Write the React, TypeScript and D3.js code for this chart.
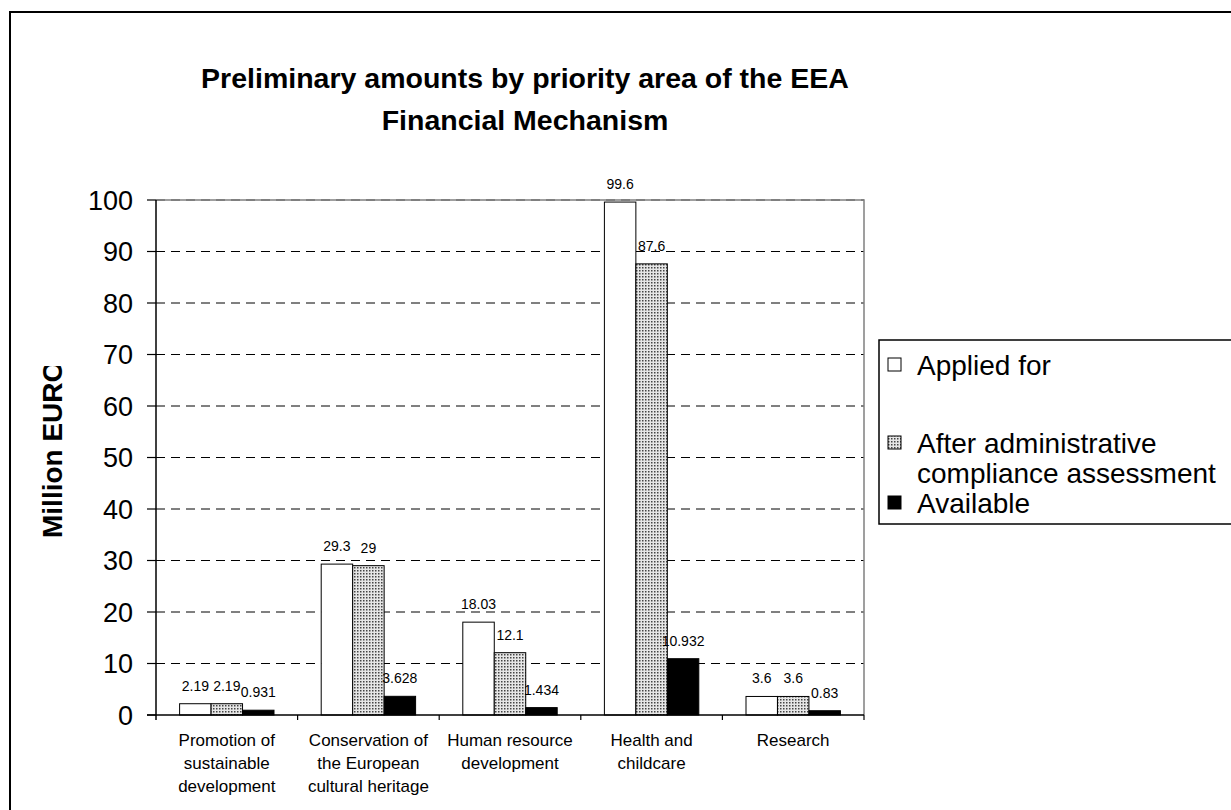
import React from 'react';
import * as d3 from 'd3';

// chart values
const categories = [
  'Promotion of sustainable development',
  'Conservation of the European cultural heritage',
  'Human resource development',
  'Health and childcare',
  'Research',
];
const categoryLines = [
  ['Promotion of', 'sustainable', 'development'],
  ['Conservation of', 'the European', 'cultural heritage'],
  ['Human resource', 'development'],
  ['Health and', 'childcare'],
  ['Research'],
];
const series = ['Applied for', 'After administrative compliance assessment', 'Available'];
const legendLines = [['Applied for'], ['After administrative', 'compliance assessment'], ['Available']];
const appliedFor = [2.19, 29.3, 18.03, 99.6, 3.6];
const afterAssessment = [2.19, 29, 12.1, 87.6, 3.6];
const available = [0.931, 3.628, 1.434, 10.932, 0.83];
const yTicks = [0, 10, 20, 30, 40, 50, 60, 70, 80, 90, 100];

const FONT = "Arial, 'Liberation Sans', sans-serif";

export default function App() {
  const width = 1231, height = 810;
  const plot = {left: 156, top: 200, right: 864, bottom: 715};

  const x = d3.scaleBand<string>().domain(categories).range([plot.left, plot.right]);
  const barW = x.bandwidth() / 4.5;
  const xs = d3.scaleBand<string>().domain(series).range([0.75 * barW, 3.75 * barW]);
  const y = d3.scaleLinear().domain([0, 100]).range([plot.bottom, plot.top]);

  const values = [appliedFor, afterAssessment, available];
  const fills = ['#ffffff', 'url(#dots)', '#000000'];

  return (
    <svg width={width} height={height} style={{position: 'absolute', left: 0, top: 0, background: '#fff'}}
         fontFamily={FONT}>
      <defs>
        <pattern id="dots" width={3} height={3} patternUnits="userSpaceOnUse">
          <rect width={3} height={3} fill="#e6e6e6" />
          <rect width={1.5} height={1.5} fill="#444" />
        </pattern>
        <clipPath id="ylab">
          <rect x={0} y={366} width={150} height={400} />
        </clipPath>
      </defs>

      {/* chart frame */}
      <rect x={10} y={12} width={1300} height={900} fill="#fff" stroke="#000" strokeWidth={2} />

      {/* title */}
      <text x={525} y={88} textAnchor="middle" fontSize={28.5} fontWeight="bold">
        Preliminary amounts by priority area of the EEA
      </text>
      <text x={525} y={130} textAnchor="middle" fontSize={28.5} fontWeight="bold">
        Financial Mechanism
      </text>

      {/* gridlines */}
      {yTicks.filter(t => t > 0).map(t => (
        <line key={t} x1={plot.left} x2={plot.right} y1={y(t)} y2={y(t)}
              stroke="#000" strokeDasharray="9,6" strokeWidth={1} />
      ))}
      {/* plot border top / right */}
      <path d={`M${plot.left},${plot.top}H${plot.right}V${plot.bottom}`} fill="none" stroke="#808080" strokeWidth={1.5} />

      {/* bars */}
      {series.map((s, si) => categories.map((c, ci) => {
        const v = values[si][ci];
        return (
          <rect key={s + c} x={(x(c) as number) + (xs(s) as number)} y={y(v)}
                width={xs.bandwidth()} height={y(0) - y(v)}
                fill={fills[si]} stroke="#000" strokeWidth={1} />
        );
      }))}

      {/* data labels */}
      {series.map((s, si) => categories.map((c, ci) => {
        const v = values[si][ci];
        return (
          <text key={'l' + s + c} x={(x(c) as number) + (xs(s) as number) + xs.bandwidth() / 2}
                y={y(v) - 13} textAnchor="middle" fontSize={14}>{String(v)}</text>
        );
      }))}

      {/* axes */}
      <line x1={plot.left} x2={plot.left} y1={plot.top} y2={plot.bottom + 5} stroke="#000" strokeWidth={1.5} />
      <line x1={plot.left - 9} x2={plot.right} y1={plot.bottom} y2={plot.bottom} stroke="#000" strokeWidth={1.5} />
      {yTicks.map(t => (
        <g key={'t' + t}>
          <line x1={plot.left - 9} x2={plot.left} y1={y(t)} y2={y(t)} stroke="#000" strokeWidth={1.2} />
          <text x={133} y={y(t)} dy="0.36em" textAnchor="end" fontSize={27}>{t}</text>
        </g>
      ))}
      {categories.map(c => (
        <line key={'xt' + c} x1={(x(c) as number) + x.bandwidth()} x2={(x(c) as number) + x.bandwidth()}
              y1={plot.bottom} y2={plot.bottom + 5} stroke="#000" strokeWidth={1.2} />
      ))}
      {categories.map((c, ci) => (
        <text key={'xl' + c} textAnchor="middle" fontSize={17}>
          {categoryLines[ci].map((ln, li) => (
            <tspan key={li} x={(x(c) as number) + x.bandwidth() / 2} y={746 + li * 23}>{ln}</tspan>
          ))}
        </text>
      ))}

      {/* y axis title, clipped like the original */}
      <g clipPath="url(#ylab)">
        <text transform="translate(62,538) rotate(-90)" fontSize={28} fontWeight="bold">Million EURO</text>
      </g>

      {/* legend */}
      <rect x={879} y={340} width={400} height={184} fill="#fff" stroke="#000" strokeWidth={1.5} />
      {legendLines.map((lines, i) => {
        const base = [375, 453, 513][i];
        return (
          <g key={'lg' + i}>
            <rect x={888} y={base - 17} width={13} height={13} fill={fills[i]} stroke="#000" strokeWidth={1} />
            <text fontSize={28}>
              {lines.map((ln, li) => (
                <tspan key={li} x={917} y={base + li * 30}>{ln}</tspan>
              ))}
            </text>
          </g>
        );
      })}
    </svg>
  );
}
